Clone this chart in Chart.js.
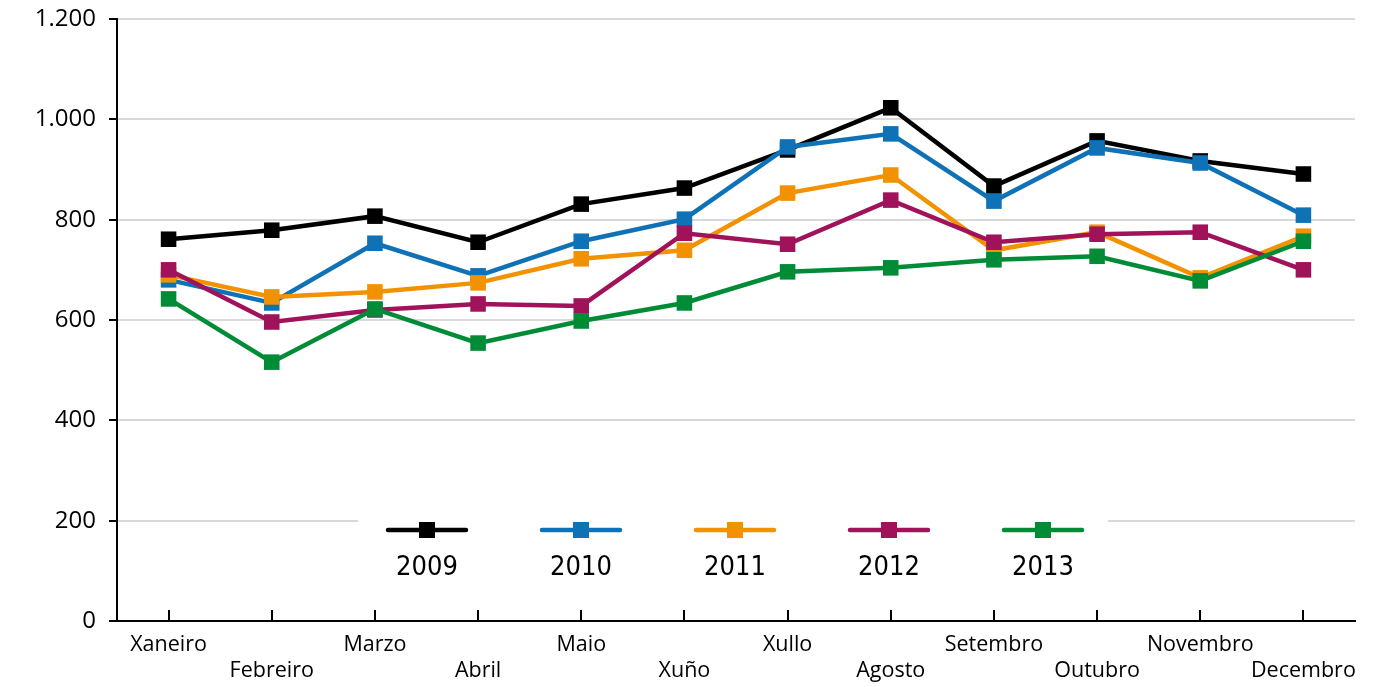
<!DOCTYPE html>
<html>
<head>
<meta charset="utf-8">
<script src="https://cdn.jsdelivr.net/npm/chart.js@4/dist/chart.umd.min.js"></script>
<style>
  html, body { margin: 0; padding: 0; background: #fff; }
  #wrap { width: 1392px; height: 687px; position: relative; }
</style>
</head>
<body>
<div id="wrap"><canvas id="c" width="1392" height="687"></canvas></div>
<script>
const months = ['Xaneiro','Febreiro','Marzo','Abril','Maio','Xuño','Xullo','Agosto','Setembro','Outubro','Novembro','Decembro'];
const years = ['2009','2010','2011','2012','2013'];
const v2009 = [761, 779, 807, 755, 831, 863, 939, 1023, 867, 957, 917, 891];
const v2010 = [680, 634, 753, 688, 757, 801, 945, 971, 837, 943, 913, 809];
const v2011 = [690, 646, 656, 674, 722, 739, 853, 889, 739, 775, 684, 767];
const v2012 = [700, 596, 620, 632, 628, 773, 751, 839, 755, 771, 775, 700];
const v2013 = [642, 516, 622, 554, 598, 634, 696, 704, 720, 727, 678, 757];
const yTicks = [0, 200, 400, 600, 800, 1000, 1200];
const colors = ['#000000', '#0f71b6', '#f39200', '#a0125a', '#008b36'];
const series = [v2009, v2010, v2011, v2012, v2013];

const fmt = n => n >= 1000 ? Math.floor(n/1000) + '.' + String(n % 1000).padStart(3, '0') : String(n);

const xTickPlugin = {
  id: 'xTicksInward',
  afterDraw(chart) {
    const ctx = chart.ctx, x = chart.scales.x, bottom = chart.chartArea.bottom;
    ctx.save();
    ctx.strokeStyle = '#000';
    ctx.lineWidth = 2;
    for (let i = 0; i < months.length; i++) {
      const px = Math.round(x.getPixelForTick(i));
      ctx.beginPath();
      ctx.moveTo(px, bottom);
      ctx.lineTo(px, bottom - 11);
      ctx.stroke();
    }
    ctx.restore();
  }
};

const legendPlugin = {
  id: 'customLegend',
  beforeDatasetsDraw(chart) {
    const ctx = chart.ctx;
    ctx.save();
    ctx.fillStyle = '#fff';
    ctx.fillRect(358, 506, 1108 - 358, 100);
    ctx.restore();
  },
  afterDatasetsDraw(chart) {
    const ctx = chart.ctx;
    ctx.save();
    years.forEach((y, i) => {
      const cx = 427 + i * 154, cy = 530;
      ctx.strokeStyle = colors[i];
      ctx.lineWidth = 4.5;
      ctx.lineCap = 'round';
      ctx.beginPath();
      ctx.moveTo(cx - 39, cy);
      ctx.lineTo(cx + 39, cy);
      ctx.stroke();
      ctx.fillStyle = colors[i];
      ctx.fillRect(cx - 8, cy - 8, 16, 16);
      ctx.fillStyle = '#000';
      ctx.font = '27px "DejaVu Sans Condensed", "DejaVu Sans", sans-serif';
      ctx.textAlign = 'center';
      ctx.textBaseline = 'middle';
      ctx.fillText(y, cx, 568);
    });
    ctx.restore();
  }
};

new Chart(document.getElementById('c'), {
  type: 'line',
  data: {
    labels: months,
    datasets: series.map((s, i) => ({
      label: years[i],
      data: s,
      order: series.length - 1 - i,
      borderColor: colors[i],
      backgroundColor: colors[i],
      borderWidth: 4.5,
      pointStyle: 'rect',
      pointRadius: 11,
      pointHoverRadius: 11,
      pointBorderWidth: 0,
      tension: 0,
      fill: false
    }))
  },
  options: {
    responsive: false,
    animation: false,
    events: [],
    layout: { padding: { left: 0, right: 37, top: 19, bottom: 0 } },
    plugins: { legend: { display: false }, tooltip: { enabled: false } },
    scales: {
      x: {
        offset: true,
        grid: { display: false },
        border: { display: true, color: '#000', width: 2 },
        ticks: {
          autoSkip: false,
          maxRotation: 0,
          minRotation: 0,
          padding: 3,
          color: '#000',
          font: { family: '"Open Sans", sans-serif', size: 21.5 },
          callback: (v, i) => i % 2 === 0 ? months[i] : ['', months[i]]
        },
        afterFit: s => { s.height = 66; s.paddingLeft = 0; s.paddingRight = 0; }
      },
      y: {
        min: 0,
        max: 1200,
        afterBuildTicks: s => { s.ticks = yTicks.map(v => ({ value: v })); },
        grid: { color: '#d9d9d9', lineWidth: 2, tickColor: '#000', tickLength: 8, tickWidth: 2 },
        border: { display: true, color: '#000', width: 2 },
        ticks: {
          padding: 13,
          color: '#000',
          font: { family: '"Open Sans", sans-serif', size: 24 },
          callback: v => fmt(v)
        },
        afterFit: s => { s.width = 117; s.paddingTop = 0; s.paddingBottom = 0; }
      }
    }
  },
  plugins: [xTickPlugin, legendPlugin]
});
</script>
</body>
</html>
